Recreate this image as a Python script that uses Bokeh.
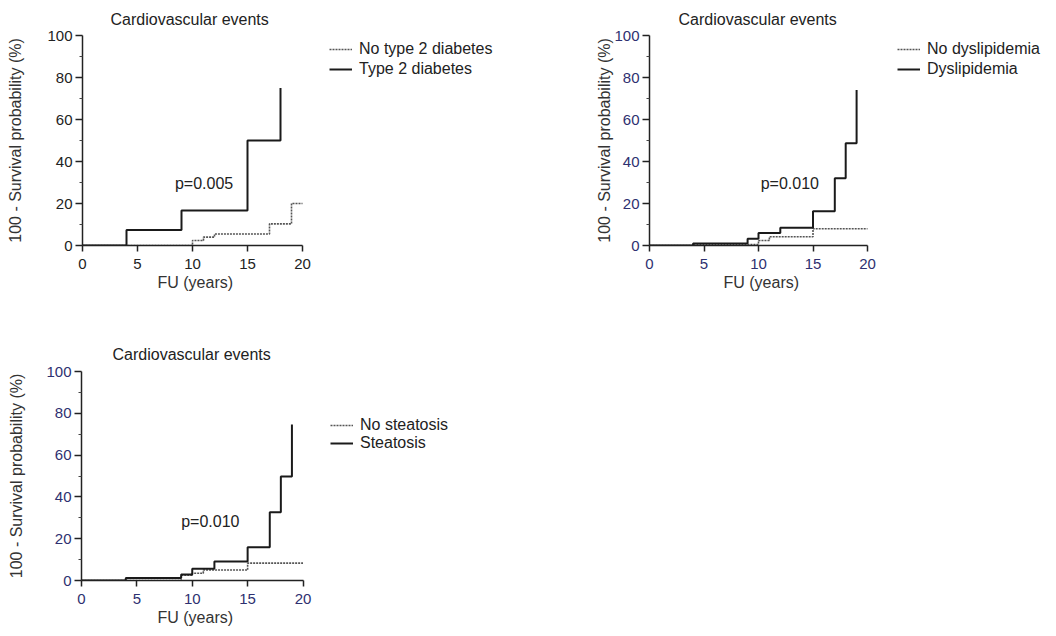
from bokeh.plotting import figure
from bokeh.models import Legend, LegendItem, Label, Range1d, FixedTicker, Title
from bokeh.layouts import column, row
from bokeh.embed import file_html
from bokeh.resources import INLINE

# ---------------- data ----------------
title_text = "Cardiovascular events"
x_label = "FU (years)"
y_label = "100 - Survival probability (%)"
x_ticks = [0, 5, 10, 15, 20]
y_ticks = [0, 20, 40, 60, 80, 100]
y_minor = [10, 30, 50, 70, 90]

# Panel 1: type 2 diabetes
no_t2d_years = [0, 10, 11, 12, 17, 19, 20]
no_t2d_cv = [0, 2.4, 4.0, 5.5, 10.3, 20.0, 20.0]
t2d_years = [0, 4, 9, 15, 18]
t2d_cv = [0, 7.4, 16.7, 50.0, 75.0]
p1_labels = ["No type 2 diabetes", "Type 2 diabetes"]
p1_pvalue = "p=0.005"

# Panel 2: dyslipidemia
no_dys_years = [0, 4, 10, 11, 15, 20]
no_dys_cv = [0, 0.5, 2.4, 4.2, 8.0, 8.0]
dys_years = [0, 4, 9, 10, 12, 15, 17, 18, 19]
dys_cv = [0, 1.0, 3.2, 5.9, 8.4, 16.3, 32.0, 48.7, 74.1]
p2_labels = ["No dyslipidemia", "Dyslipidemia"]
p2_pvalue = "p=0.010"

# Panel 3: steatosis
no_ste_years = [0, 9, 10, 11, 15, 20]
no_ste_cv = [0, 2.5, 3.5, 5.0, 8.3, 8.3]
ste_years = [0, 4, 9, 10, 12, 15, 17, 18, 19]
ste_cv = [0, 1.2, 2.9, 5.6, 9.1, 15.9, 32.7, 49.8, 74.6]
p3_labels = ["No steatosis", "Steatosis"]
p3_pvalue = "p=0.010"

FONT = "Liberation Sans"


def make_panel(width, height, left, right, top, bottom, x20_px,
               dotted, solid, labels, pval, pval_pos, legend_loc,
               legend_row_h, title_offset, title_standoff, tick_color,
               ylabel_standoff):
    frame_w = width - left - right
    x_end = 20.0 * frame_w / x20_px
    p = figure(width=width, height=height, output_backend="svg",
               toolbar_location=None, x_range=Range1d(0, x_end),
               y_range=Range1d(0, 100), min_border_left=left,
               min_border_right=right, min_border_top=top,
               min_border_bottom=bottom, title=title_text)
    p.outline_line_color = None
    p.grid.visible = False
    p.background_fill_color = "white"
    p.border_fill_color = "white"

    p.title.align = "left"
    p.title.offset = title_offset
    p.title.standoff = title_standoff
    p.title.text_font = FONT
    p.title.text_font_size = "16px"
    p.title.text_font_style = "normal"
    p.title.text_color = "#222222"

    for ax in (p.xaxis[0], p.yaxis[0]):
        ax.axis_line_width = 1.5
        ax.axis_line_color = "#222222"
        ax.major_tick_line_width = 1.5
        ax.major_tick_line_color = "#222222"
        ax.major_tick_in = 0
        ax.major_label_text_font = FONT
        ax.major_label_text_font_size = "15px"
        ax.major_label_text_color = tick_color
        ax.axis_label_text_font = FONT
        ax.axis_label_text_font_size = "16px"
        ax.axis_label_text_font_style = "normal"
        ax.axis_label_text_color = "#333333"

    xa = p.xaxis[0]
    xa.ticker = FixedTicker(ticks=x_ticks, minor_ticks=[])
    xa.bounds = (0, 20)
    xa.major_tick_out = 6
    xa.major_label_standoff = 7
    xa.minor_tick_line_color = None

    ya = p.yaxis[0]
    ya.ticker = FixedTicker(ticks=y_ticks, minor_ticks=y_minor)
    ya.bounds = (0, 100)
    ya.major_tick_out = 7
    ya.major_label_standoff = 3
    ya.minor_tick_out = 3
    ya.minor_tick_in = 0
    ya.minor_tick_line_color = "#444444"
    ya.axis_label = y_label
    ya.axis_label_standoff = ylabel_standoff

    # x-axis title, centred under the 0..20 part of the axis
    px_per_year = x20_px / 20.0
    p.add_layout(Title(text=x_label, align="left",
                       offset=int(round(10 * px_per_year - 35)),
                       standoff=0, text_font=FONT, text_font_size="16px",
                       text_font_style="normal", text_color="#333333"),
                 "below")

    (dx, dy), (sx, sy) = dotted, solid
    r_dot = p.step(dx, dy, mode="after", line_color="#555555",
                   line_width=1.6, line_dash="2 1")
    r_sol = p.step(sx, sy, mode="after", line_color="#1a1a1a",
                   line_width=2)

    legend = Legend(items=[LegendItem(label=labels[0], renderers=[r_dot]),
                           LegendItem(label=labels[1], renderers=[r_sol])],
                    location=legend_loc, orientation="vertical",
                    padding=0, margin=0, spacing=0,
                    glyph_width=23, glyph_height=legend_row_h,
                    label_height=legend_row_h, label_standoff=7,
                    label_text_font=FONT, label_text_font_size="16px",
                    label_text_color="#222222",
                    border_line_color=None, background_fill_alpha=0)
    p.add_layout(legend)

    p.add_layout(Label(x=pval_pos[0], y=pval_pos[1], text=pval,
                       text_font=FONT, text_font_size="16px",
                       text_color="#222222", text_baseline="middle",
                       text_align="left"))
    return p


p1 = make_panel(579, 296, 82, 5, 35, 51, 220,
                (no_t2d_years, no_t2d_cv), (t2d_years, t2d_cv),
                p1_labels, p1_pvalue, (8.4, 29.7), (247, 166), 20, 28, 15,
                "#222222", 20)
p2 = make_panel(469, 296, 70, 5, 35, 51, 218,
                (no_dys_years, no_dys_cv), (dys_years, dys_cv),
                p2_labels, p2_pvalue, (10.2, 29.5), (248, 166), 20, 29, 15,
                "#2e3070", -2)
p3 = make_panel(579, 333, 81, 5, 75, 49, 221.5,
                (no_ste_years, no_ste_cv), (ste_years, ste_cv),
                p3_labels, p3_pvalue, (9.0, 28.0), (249, 128), 18, 31, 18,
                "#2e3070", 18)

layout = column(row(p1, p2), p3)
open("out.html", "w").write(file_html(layout, INLINE))
